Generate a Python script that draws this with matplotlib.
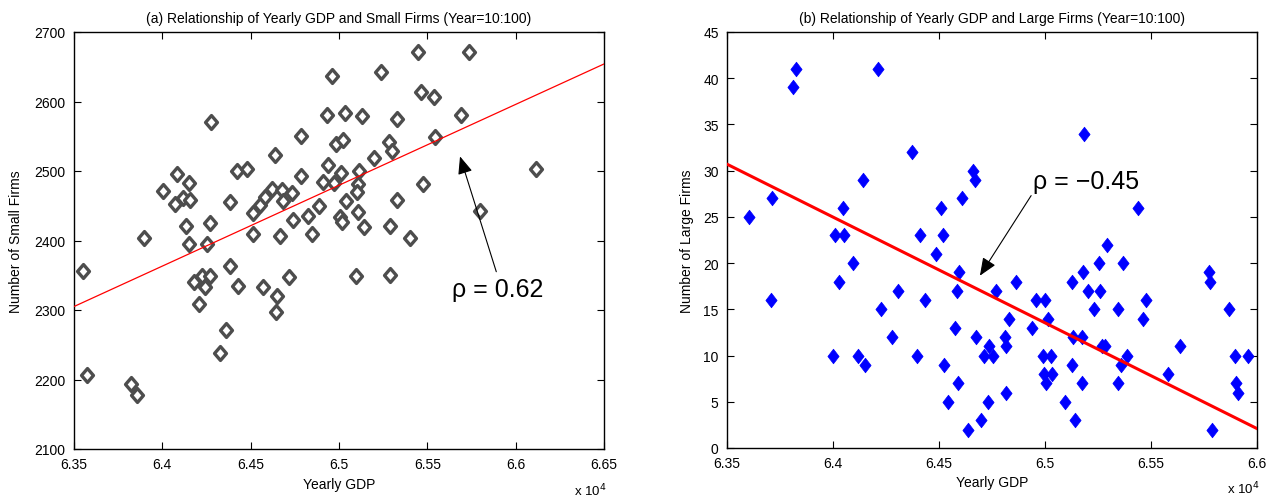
import matplotlib
matplotlib.use("Agg")
import matplotlib.pyplot as plt
from matplotlib.path import Path
import numpy as np

plt.rcParams['font.family'] = ['Liberation Sans', 'DejaVu Sans']

# ---- Panel (a): yearly GDP (x 1e4) vs number of small firms ----
gdp_a = [6.3551, 6.3574, 6.3823, 6.3857, 6.3896, 6.4004, 6.4072, 6.4083, 6.4117, 6.4151,
         6.4157, 6.4134, 6.4151, 6.4270, 6.4253, 6.4179, 6.4225, 6.4270, 6.4242, 6.4208,
         6.4326, 6.4360, 6.4383, 6.4383, 6.4423, 6.4479, 6.4428, 6.4275, 6.4513, 6.4513,
         6.4553, 6.4581, 6.4570, 6.4621, 6.4677, 6.4683, 6.4734, 6.4638, 6.4649, 6.4643,
         6.4666, 6.4717, 6.4740, 6.4785, 6.4785, 6.4825, 6.4847, 6.4887, 6.4938, 6.4909,
         6.4972, 6.4960, 6.4932, 6.5034, 6.4983, 6.5023, 6.5011, 6.5006, 6.5017, 6.5040,
         6.5096, 6.5108, 6.5102, 6.5113, 6.5108, 6.5130, 6.5142, 6.5198, 6.5238, 6.5283,
         6.5300, 6.5328, 6.5328, 6.5289, 6.5289, 6.5402, 6.5447, 6.5464, 6.5538, 6.5543,
         6.5475, 6.5691, 6.5736, 6.5798, 6.6115]
small_firms = [2356, 2206, 2194, 2178, 2404, 2471, 2453, 2496, 2461, 2483,
               2458, 2421, 2395, 2425, 2395, 2340, 2349, 2349, 2333, 2309,
               2238, 2271, 2455, 2363, 2500, 2503, 2335, 2570, 2440, 2409,
               2451, 2463, 2333, 2474, 2473, 2457, 2468, 2523, 2320, 2297,
               2406, 2347, 2430, 2550, 2493, 2435, 2409, 2450, 2509, 2484,
               2483, 2637, 2581, 2583, 2539, 2545, 2497, 2434, 2427, 2457,
               2349, 2481, 2470, 2500, 2441, 2579, 2419, 2519, 2642, 2542,
               2529, 2575, 2458, 2421, 2350, 2404, 2671, 2614, 2606, 2549,
               2481, 2581, 2671, 2442, 2503]
fit_a_x = [6.35, 6.65]
fit_a_y = [2305, 2654]

# ---- Panel (b): yearly GDP (x 1e4) vs number of large firms ----
gdp_b = [6.3605, 6.3711, 6.3706, 6.3813, 6.3824, 6.4001, 6.4009, 6.4046, 6.4052, 6.4028,
         6.4096, 6.4119, 6.4143, 6.4151, 6.4214, 6.4225, 6.4280, 6.4308, 6.4374, 6.4395,
         6.4410, 6.4434, 6.4486, 6.4508, 6.4517, 6.4525, 6.4541, 6.4575, 6.4586, 6.4588,
         6.4596, 6.4609, 6.4638, 6.4662, 6.4670, 6.4674, 6.4697, 6.4712, 6.4733, 6.4737,
         6.4753, 6.4769, 6.4811, 6.4816, 6.4816, 6.4832, 6.4863, 6.4940, 6.4958, 6.4992,
         6.4995, 6.5000, 6.5005, 6.5016, 6.5028, 6.5032, 6.5094, 6.5129, 6.5129, 6.5134,
         6.5142, 6.5173, 6.5173, 6.5178, 6.5186, 6.5205, 6.5231, 6.5255, 6.5258, 6.5269,
         6.5283, 6.5291, 6.5346, 6.5346, 6.5358, 6.5370, 6.5385, 6.5440, 6.5460, 6.5476,
         6.5582, 6.5637, 6.5775, 6.5778, 6.5786, 6.5870, 6.5896, 6.5901, 6.5912, 6.5956]
large_firms = [25, 27, 16, 39, 41, 10, 23, 26, 23, 18,
               20, 10, 29, 9, 41, 15, 12, 17, 32, 10,
               23, 16, 21, 26, 23, 9, 5, 13, 17, 7,
               19, 27, 2, 30, 29, 12, 3, 10, 5, 11,
               10, 17, 12, 11, 6, 14, 18, 13, 16, 10,
               8, 16, 7, 14, 10, 8, 5, 18, 9, 12,
               3, 12, 7, 19, 34, 17, 15, 20, 17, 11,
               11, 22, 15, 7, 9, 20, 10, 26, 14, 16,
               8, 11, 19, 18, 2, 15, 10, 7, 6, 10]
fit_b_x = [6.35, 6.60]
fit_b_y = [30.7, 2.1]

title_a = "(a) Relationship of Yearly GDP and Small Firms (Year=10:100)"
title_b = "(b) Relationship of Yearly GDP and Large Firms (Year=10:100)"
xticks_a = [6.35, 6.4, 6.45, 6.5, 6.55, 6.6, 6.65]
xticks_b = [6.35, 6.4, 6.45, 6.5, 6.55, 6.6]
yticks_a = [2100, 2200, 2300, 2400, 2500, 2600, 2700]
yticks_b = [0, 5, 10, 15, 20, 25, 30, 35, 40, 45]

diamond_a = Path([(0, 1), (0.86, 0), (0, -1), (-0.86, 0), (0, 1)],
                 [Path.MOVETO, Path.LINETO, Path.LINETO, Path.LINETO, Path.CLOSEPOLY])
diamond_b = Path([(0, 1), (0.77, 0), (0, -1), (-0.77, 0), (0, 1)],
                 [Path.MOVETO, Path.LINETO, Path.LINETO, Path.LINETO, Path.CLOSEPOLY])

fig = plt.figure(figsize=(12.84, 5.02), dpi=100)
ax1 = fig.add_axes([74/1284, 52/502, 530/1284, 417/502])
ax2 = fig.add_axes([727/1284, 53/502, 530/1284, 416/502])

def fmt_tick(v):
    s = ('%.2f' % v).rstrip('0').rstrip('.')
    return s

for ax in (ax1, ax2):
    ax.tick_params(direction='in', top=True, right=True, length=5, width=0.8,
                   labelsize=10, colors='black', pad=6)
    for sp in ax.spines.values():
        sp.set_linewidth(1.0)
        sp.set_color('black')

# Panel a
ax1.plot(fit_a_x, fit_a_y, color='red', lw=0.9, zorder=3)
ax1.plot(gdp_a, small_firms, linestyle='none', marker=diamond_a, markersize=10,
         markerfacecolor='white', markeredgecolor='#4d4d4d', markeredgewidth=2.4, zorder=2)
ax1.set_xlim(6.35, 6.65)
ax1.set_ylim(2100, 2700)
ax1.set_xticks(xticks_a)
ax1.set_xticklabels([fmt_tick(v) for v in xticks_a])
ax1.set_yticks(yticks_a)
ax1.set_title(title_a, fontsize=10, pad=7)
ax1.set_xlabel("Yearly GDP", fontsize=10)
ax1.set_ylabel("Number of Small Firms", fontsize=10)
ax1.xaxis.set_label_coords(0.5, -0.066)
ax1.yaxis.set_label_coords(-0.097, 0.5)
ax1.text(1.005, -0.11, r"x 10$^{4}$", transform=ax1.transAxes, ha='right', va='baseline', fontsize=9.5)
ax1.annotate("\u03c1 = 0.62", xy=(6.5685, 2521), xytext=(6.590, 2330),
             fontsize=18, ha='center', va='center',
             arrowprops=dict(arrowstyle='-|>,head_length=0.6,head_width=0.25', color='black',
                             lw=0.8, relpos=(0.5, 1.0), shrinkA=2, shrinkB=0))

# Panel b
ax2.plot(fit_b_x, fit_b_y, color='red', lw=2.2, zorder=3)
ax2.plot(gdp_b, large_firms, linestyle='none', marker=diamond_b, markersize=10.5,
         markerfacecolor='blue', markeredgecolor='blue', markeredgewidth=0.5, zorder=2)
ax2.set_xlim(6.35, 6.60)
ax2.set_ylim(0, 45)
ax2.set_xticks(xticks_b)
ax2.set_xticklabels([fmt_tick(v) for v in xticks_b])
ax2.set_yticks(yticks_b)
ax2.set_title(title_b, fontsize=10, pad=7)
ax2.set_xlabel("Yearly GDP", fontsize=10)
ax2.set_ylabel("Number of Large Firms", fontsize=10)
ax2.xaxis.set_label_coords(0.5, -0.066)
ax2.yaxis.set_label_coords(-0.062, 0.5)
ax2.text(1.005, -0.11, r"x 10$^{4}$", transform=ax2.transAxes, ha='right', va='baseline', fontsize=9.5)
ax2.annotate("\u03c1 = \u22120.45", xy=(6.4693, 18.64), xytext=(6.4943, 28.9),
             fontsize=18, ha='left', va='center',
             arrowprops=dict(arrowstyle='-|>,head_length=0.6,head_width=0.25', color='black',
                             lw=0.8, relpos=(0.0, 0.0), shrinkA=0, shrinkB=0))

fig.savefig("out.png", dpi=100, facecolor='white')
